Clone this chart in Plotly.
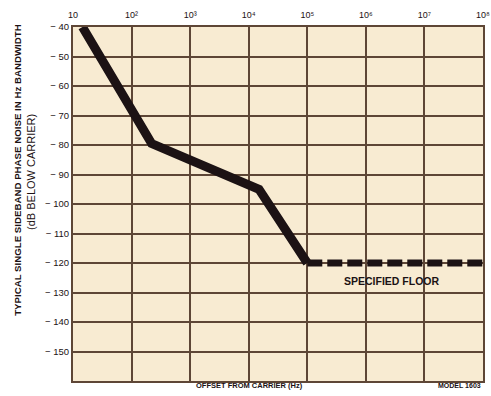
import plotly.graph_objects as go

# measured curve (offset Hz, dBc/Hz)
curve_hz = [14.5, 220, 15000, 100000]
curve_db = [-40, -79.5, -95, -120]
floor_hz = [100000, 100000000]
floor_db = [-120, -120]

x_ticks = [1e1, 1e2, 1e3, 1e4, 1e5, 1e6, 1e7, 1e8]
x_labels = ["10", "10²", "10³", "10⁴", "10⁵", "10⁶", "10⁷", "10⁸"]
y_ticks = [-40, -50, -60, -70, -80, -90, -100, -110, -120, -130, -140, -150]
y_labels = ["− " + str(abs(v)) for v in y_ticks]

INK = "#1c1214"
GRID = "#5e4636"
FONT = "Liberation Sans"

fig = go.Figure()
fig.add_trace(go.Scatter(
    x=curve_hz, y=curve_db, mode="lines",
    line={"color": INK, "width": 9}, showlegend=False,
))
fig.add_trace(go.Scatter(
    x=floor_hz, y=floor_db, mode="lines",
    line={"color": INK, "width": 7, "dash": "15px,5px"}, showlegend=False,
))

fig.add_annotation(x=6.44, y=-126, xref="x", yref="y", text="<b>SPECIFIED FLOOR</b>",
                   showarrow=False, font={"family": FONT, "size": 10.5, "color": INK})
fig.add_annotation(x=(253 - 73) / 417, y=-0.013, xref="paper", yref="paper",
                   xanchor="center", yanchor="middle",
                   text="<b>OFFSET FROM CARRIER (Hz)</b>", showarrow=False,
                   font={"family": FONT, "size": 7.5, "color": INK})
fig.add_annotation(x=1.0, y=-0.013, xref="paper", yref="paper", xanchor="right", yanchor="middle",
                   text="<b>MODEL 1603</b>", showarrow=False,
                   font={"family": FONT, "size": 7, "color": INK})
fig.add_annotation(x=-0.137, y=0.596, xref="paper", yref="paper", xanchor="center",
                   yanchor="middle", textangle=-90,
                   text="<b>TYPICAL SINGLE SIDEBAND PHASE NOISE IN Hz BANDWIDTH</b>",
                   showarrow=False, font={"family": FONT, "size": 9.7, "color": INK})
fig.add_annotation(x=-0.103, y=0.59, xref="paper", yref="paper", xanchor="center",
                   yanchor="middle", textangle=-90,
                   text="(dB BELOW CARRIER)",
                   showarrow=False, font={"family": FONT, "size": 11, "color": INK})

fig.update_xaxes(
    type="log", range=[1, 8], side="top",
    tickvals=x_ticks, ticktext=x_labels, ticks="", ticklabeloverflow="allow",
    ticklabelstandoff=3,
    showgrid=True, gridcolor=GRID, gridwidth=2,
    showline=True, linecolor=GRID, linewidth=2, mirror=True,
    tickfont={"family": FONT, "size": 9, "color": INK}, zeroline=False,
)
fig.update_yaxes(
    range=[-160, -40], tickvals=y_ticks, ticktext=y_labels, ticks="",
    showgrid=True, gridcolor=GRID, gridwidth=2,
    showline=True, linecolor=GRID, linewidth=2, mirror=True,
    tickfont={"family": FONT, "size": 9.5, "color": INK}, zeroline=False,
)
fig.update_layout(
    width=491, height=396,
    margin={"l": 73, "r": 1, "t": 27, "b": 15},
    plot_bgcolor="#f8ebd2", paper_bgcolor="#ffffff",
)
fig.write_html("out.html", config={"displayModeBar": False},
               post_script="document.body.style.margin='0';")
